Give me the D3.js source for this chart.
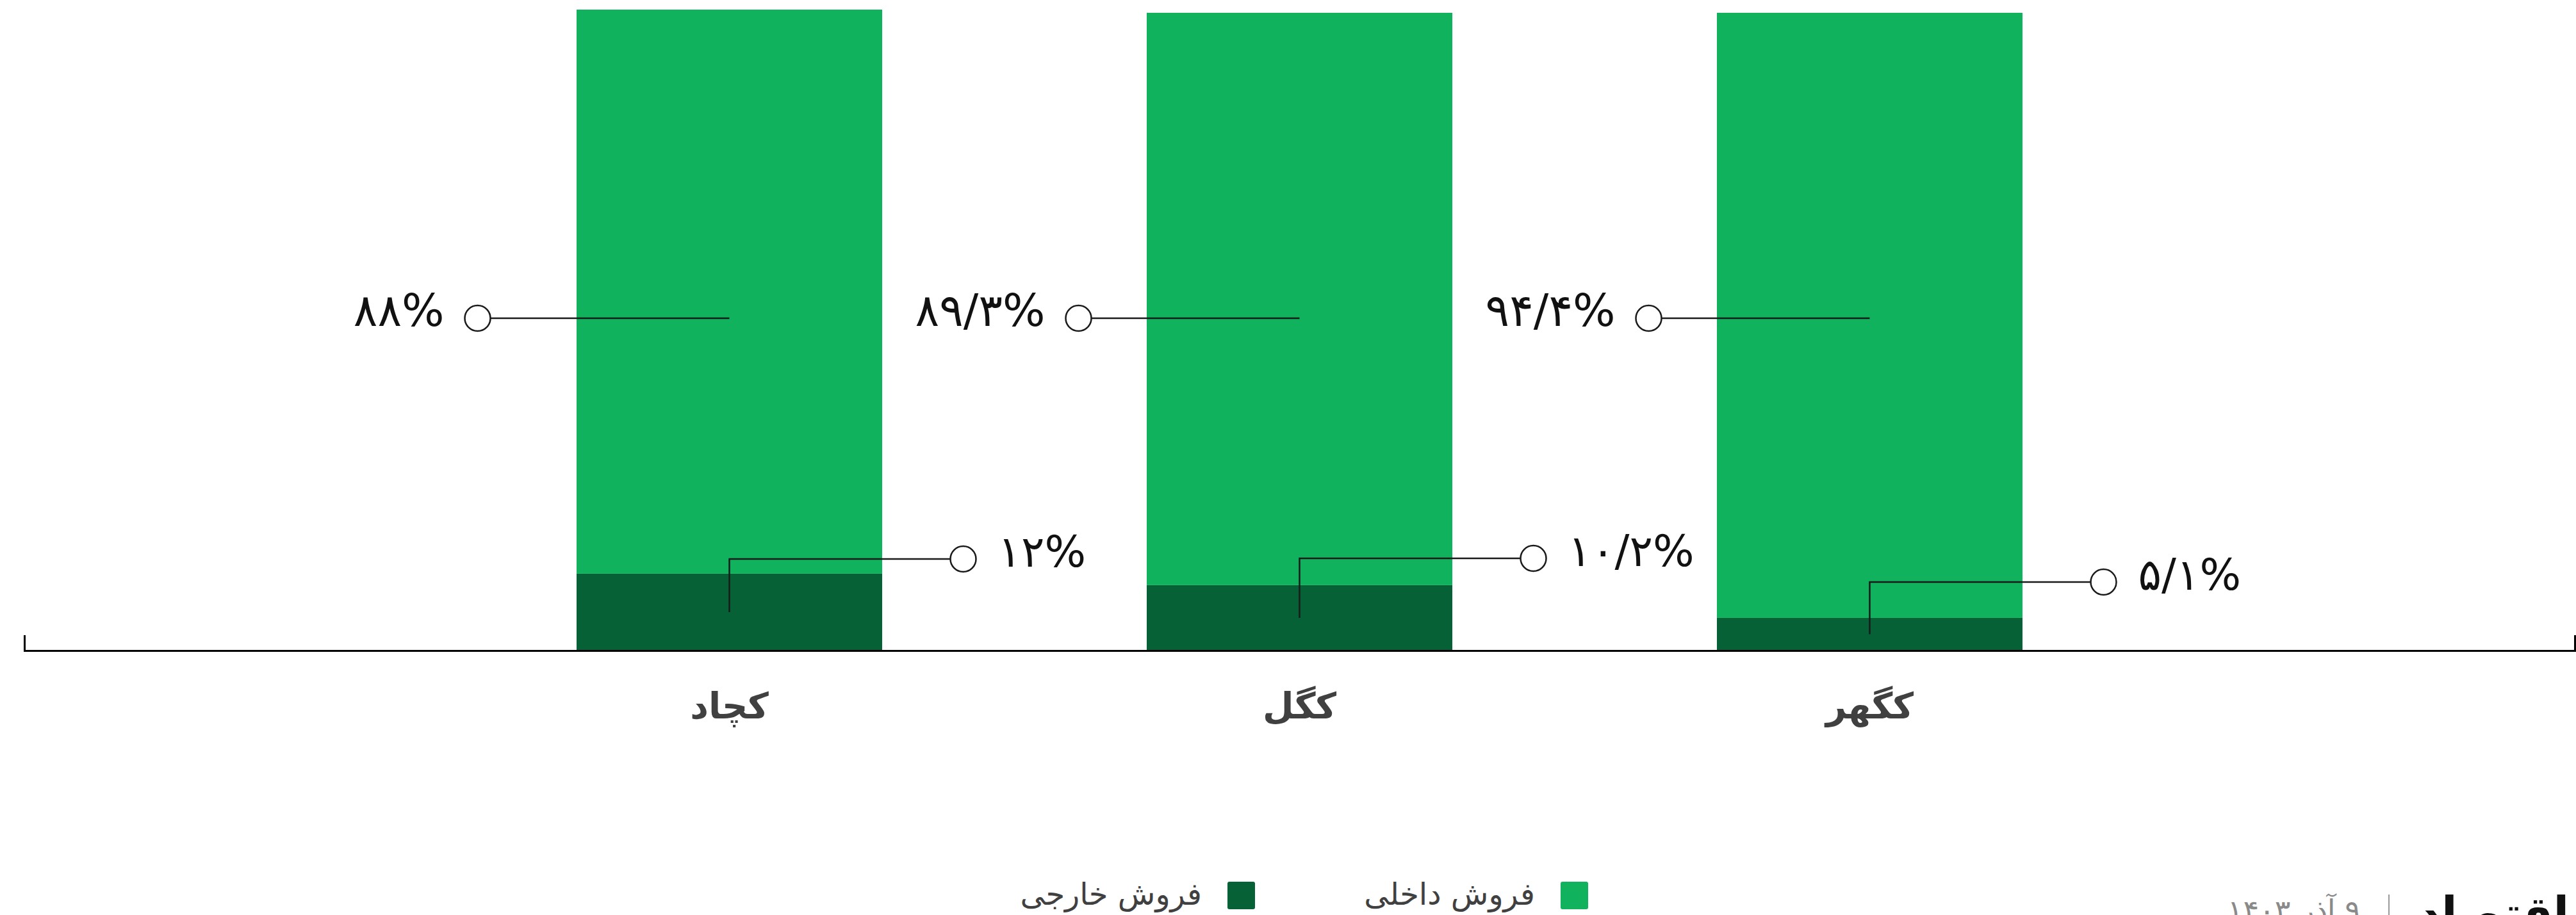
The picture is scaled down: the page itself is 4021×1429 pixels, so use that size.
<!DOCTYPE html>
<html>
<head>
<meta charset="utf-8">
<script src="https://cdn.jsdelivr.net/npm/d3@7"></script>
<style>
	html, body { margin: 0; padding: 0; background: #fff; overflow: hidden; }
	svg { display: block; }
	text { font-family: "DejaVu Sans", sans-serif; }
</style>
</head>
<body>
<svg id="chart" width="4021" height="1429"></svg>
<script>
// data
var categories = ['کچاد', 'کگل', 'کگهر'];
var domestic = [88, 89.3, 94.4];   // فروش داخلی
var exports_ = [12, 10.2, 5.1];    // فروش خارجی
var domesticLabels = ['۸۸%', '۸۹/۳%', '۹۴/۴%'];
var exportLabels = ['۱۲%', '۱۰/۲%', '۵/۱%'];
var seriesNames = ['فروش داخلی', 'فروش خارجی'];

// layout only
var bigLeaderLen = [393, 345, 345];
var bigLeaderY = 497;
var smallElbowY = [873, 872, 909];
var smallLeaderLen = 365;

var W = 4021, H = 1429;
var colors = { domestic: '#10b25d', exports: '#066136' };
var svg = d3.select('#chart');

var x = d3.scaleBand()
	.domain(categories)
	.range([693.5, 3363.5])
	.paddingInner(0.464)
	.paddingOuter(0.232);

var y = d3.scaleLinear().domain([0, 100]).range([1016, 15]);

var rows = categories.map(function (c, i) {
	return { cat: c, dom: domestic[i], exp: exports_[i], i: i };
});

// bars
var g = svg.append('g').attr('class', 'bars');
g.selectAll('.bar-exp').data(rows).enter().append('rect')
	.attr('class', 'bar-exp')
	.attr('x', function (d) { return x(d.cat); })
	.attr('width', x.bandwidth())
	.attr('y', function (d) { return y(d.exp); })
	.attr('height', function (d) { return y(0) - y(d.exp); })
	.attr('fill', colors.exports);

g.selectAll('.bar-dom').data(rows).enter().append('rect')
	.attr('class', 'bar-dom')
	.attr('x', function (d) { return x(d.cat); })
	.attr('width', x.bandwidth())
	.attr('y', function (d) { return y(d.exp + d.dom); })
	.attr('height', function (d) { return y(d.exp) - y(d.exp + d.dom); })
	.attr('fill', colors.domestic);

// baseline axis with upward end ticks
var xAxisScale = d3.scaleLinear().domain([0, 1]).range([38, 4019]);
svg.append('g')
	.attr('transform', 'translate(0,' + y(0) + ')')
	.call(d3.axisBottom(xAxisScale).tickValues([]).tickSizeOuter(-24))
	.call(function (a) {
		a.select('.domain').attr('stroke', '#000').attr('stroke-width', 3);
	});

// category labels
svg.append('g')
	.attr('transform', 'translate(0,' + y(0) + ')')
	.call(d3.axisBottom(x).tickSize(0).tickPadding(0))
	.call(function (a) {
		a.select('.domain').remove();
		a.selectAll('text')
			.attr('y', 106)
			.attr('dy', 0)
			.attr('font-family', '"DejaVu Sans", sans-serif')
			.attr('font-size', 56)
			.attr('font-weight', 'bold')
			.attr('fill', '#404040');
	});

var cx = function (d) { return x(d.cat) + x.bandwidth() / 2; };
var ink = '#1a1a1a';

// domestic leaders
var big = svg.append('g').attr('class', 'big-leaders');
big.selectAll('line').data(rows).enter().append('line')
	.attr('x1', cx)
	.attr('x2', function (d) { return cx(d) - bigLeaderLen[d.i]; })
	.attr('y1', bigLeaderY).attr('y2', bigLeaderY)
	.attr('stroke', ink).attr('stroke-width', 2.5);
big.selectAll('circle').data(rows).enter().append('circle')
	.attr('cx', function (d) { return cx(d) - bigLeaderLen[d.i]; })
	.attr('cy', bigLeaderY)
	.attr('r', 20)
	.attr('fill', '#fff').attr('stroke', ink).attr('stroke-width', 2.5);
big.selectAll('text').data(rows).enter().append('text')
	.attr('x', function (d) { return cx(d) - bigLeaderLen[d.i] - 52; })
	.attr('y', bigLeaderY + 12)
	.attr('text-anchor', 'end')
	.attr('direction', 'ltr')
	.attr('font-size', 70)
	.attr('fill', '#111')
	.text(function (d) { return domesticLabels[d.i]; });

// export leaders (elbow)
var small = svg.append('g').attr('class', 'small-leaders');
small.selectAll('path').data(rows).enter().append('path')
	.attr('d', function (d) {
		var ym = (y(0) + y(d.exp)) / 2;
		return 'M' + cx(d) + ',' + ym + 'V' + smallElbowY[d.i] + 'H' + (cx(d) + smallLeaderLen);
	})
	.attr('fill', 'none').attr('stroke', ink).attr('stroke-width', 2.5);
small.selectAll('circle').data(rows).enter().append('circle')
	.attr('cx', function (d) { return cx(d) + smallLeaderLen; })
	.attr('cy', function (d) { return smallElbowY[d.i]; })
	.attr('r', 20)
	.attr('fill', '#fff').attr('stroke', ink).attr('stroke-width', 2.5);
small.selectAll('text').data(rows).enter().append('text')
	.attr('x', function (d) { return cx(d) + smallLeaderLen + 54; })
	.attr('y', function (d) { return smallElbowY[d.i] + 12; })
	.attr('text-anchor', 'start')
	.attr('direction', 'ltr')
	.attr('font-size', 68)
	.attr('fill', '#111')
	.text(function (d) { return exportLabels[d.i]; });

// legend
var legend = svg.append('g').attr('class', 'legend');
var legendItems = [
	{ name: seriesNames[0], color: colors.domestic, sx: 2436 },
	{ name: seriesNames[1], color: colors.exports, sx: 1916 }
];
var li = legend.selectAll('g').data(legendItems).enter().append('g');
li.append('rect')
	.attr('x', function (d) { return d.sx; })
	.attr('y', 1377)
	.attr('width', 43).attr('height', 43)
	.attr('rx', 3)
	.attr('fill', function (d) { return d.color; });
li.append('text')
	.attr('x', function (d) { return d.sx - 40; })
	.attr('y', 1413)
	.attr('text-anchor', 'end')
	.attr('font-size', 48)
	.attr('fill', '#404040')
	.text(function (d) { return d.name; });

// footer (runs off the bottom edge, as in the source image)
var foot = svg.append('g').attr('class', 'footer');
foot.append('text')
	.attr('x', 3685).attr('y', 1438)
	.attr('text-anchor', 'start')
	.attr('direction', 'rtl')
	.attr('font-size', 46)
	.attr('fill', '#8a8a8a')
	.text('۹ آذر ۱۴۰۳');
foot.append('line')
	.attr('x1', 3729).attr('x2', 3729)
	.attr('y1', 1397).attr('y2', H)
	.attr('stroke', '#999').attr('stroke-width', 2);
foot.append('text')
	.attr('x', 3774).attr('y', 1452)
	.attr('text-anchor', 'start')
	.attr('font-size', 72)
	.attr('font-weight', 'bold')
	.attr('fill', '#111')
	.text('دنیای اقتصاد');
</script>
</body>
</html>
